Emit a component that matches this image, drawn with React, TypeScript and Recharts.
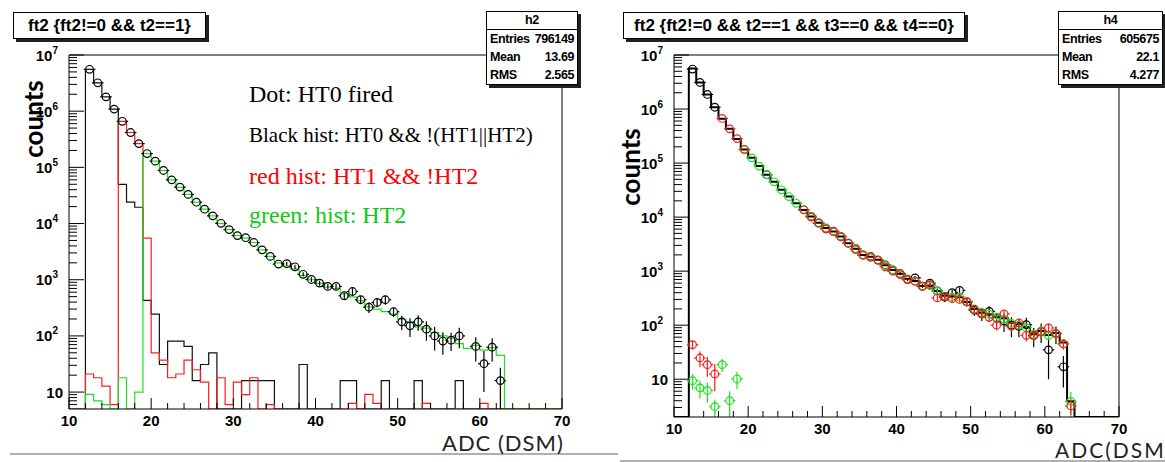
import React from "react";
import {
  ComposedChart,
  Line,
  Scatter,
  XAxis,
  YAxis,
  ErrorBar,
  ReferenceLine,
} from "recharts";

// histograms are filled per integer bin, first bin edge = 10
const HIST_FIRST_BIN = 10;
// open-circle points start at bin 12 (centre 12.5)
const DOT_FIRST_BIN = 12;
const X_TICKS = [10, 12, 14, 16, 18, 20, 22, 24, 26, 28, 30, 32, 34, 36, 38, 40, 42, 44, 46, 48, 50, 52, 54, 56, 58, 60, 62, 64, 66, 68, 70];

// ---------- left panel: ft2 {ft2!=0 && t2==1} ----------
// bins 10..69
const leftBlackHist = [
  0, 0, 5.56e6, 3.2e6, 1.8e6, 1.09e6, 5e4, 2.4e4, 1.95e4, 430,
  245, 31, 81, 81, 65, 16, 31, 50, 0, 0,
  0, 16, 16, 16, 16, 0, 0, 0, 31, 0,
  0, 0, 0, 16, 16, 0, 0, 0, 16, 0,
  0, 0, 16, 0, 0, 0, 0, 16, 0, 0,
  0, 0, 0, 0, 0, 0, 0, 0, 0, 0,
];
const leftRedHist = [
  0, 0, 21, 18, 12.8, 6, 6.6e5, 4.17e5, 2.65e5, 5.5e3,
  50, 37, 18, 21, 37, 25, 15, 0, 18, 6,
  15, 9, 18, 0, 6, 0, 0, 0, 0, 0,
  0, 0, 0, 0, 6.3, 0, 9.1, 6.3, 0, 0,
  0, 0, 0, 6.3, 0, 0, 0, 0, 0, 0,
  6.3, 0, 0, 0, 0, 0, 0, 0, 0, 0,
];
const leftGreenHist = [
  0, 0, 9.1, 7, 6, 0, 18, 0, 10, 1.76e5,
  1.29e5, 8.8e4, 6.0e4, 4.4e4, 3.3e4, 2.4e4, 1.8e4, 1.37e4, 1.0e4, 7.8e3,
  6.1e3, 5.5e3, 4.6e3, 3.4e3, 2.6e3, 2.0e3, 1.75e3, 1.55e3, 1.2e3, 1.0e3,
  860, 740, 700, 560, 497, 422, 330, 300, 270, 244,
  198, 174, 145, 138, 115, 100, 91, 73, 60, 68,
  56, 62, 45, 0, 0, 0, 0, 0, 0, 0,
];
// HT0 fired points, bins 12..62
const leftDots = [
  5.56e6, 3.2e6, 1.8e6, 1.09e6, 6.6e5, 4.17e5, 2.65e5, 1.76e5,
  1.29e5, 8.8e4, 6.0e4, 4.45e4, 3.3e4, 2.4e4, 1.8e4, 1.37e4, 1.01e4, 7.8e3,
  6.1e3, 5.6e3, 4.6e3, 3.4e3, 2.6e3, 1.9e3, 1.93e3, 1.7e3, 1.25e3, 1.01e3,
  870, 760, 760, 518, 617, 440, 325, 393, 440, 269,
  178, 151, 178, 132, 100, 81, 84, 100, null, 65,
  32, 63, 16,
];
const leftDotErr = [
  0, 0, 0, 0, 0, 0, 0, 0,
  0, 0, 0, 0, 0, 0, 0, 0, 0, 0,
  0, 0, 0, 0, 0, 0, 150, 140, 110, 100,
  90, 80, 80, 70, 90, 70, 70, 70, 80, 50,
  50, 55, 55, 50, 45, 35, 30, 40, 0, 30,
  22, 28, 11,
];

// ---------- right panel: ft2 {ft2!=0 && t2==1 && t3==0 && t4==0} ----------
// bins 10..69
const rightBlackHist = [
  0, 0, 5.6e6, 3.1e6, 1.85e6, 1.08e6, 6.6e5, 4.3e5, 2.8e5, 1.78e5,
  1.25e5, 8.8e4, 6.1e4, 4.5e4, 3.2e4, 2.4e4, 1.8e4, 1.36e4, 1.03e4, 7.9e3,
  6.3e3, 5.4e3, 4.4e3, 3.3e3, 2.6e3, 2.0e3, 1.85e3, 1.62e3, 1.28e3, 1.05e3,
  900, 720, 660, 530, 540, 430, 350, 340, 330, 270,
  200, 170, 160, 140, 135, 110, 105, 92, 68, 78,
  66, 72, 48, 3.9, 0, 0, 0, 0, 0, 0,
];
// points, bins 12..63
const rightBlackDots = [
  5.5e6, 3.1e6, 1.86e6, 1.08e6, null, null, null, null,
  null, null, 6.1e4, null, null, null, null, null, 1.03e4, 7.8e3,
  6.2e3, 5.4e3, 4.4e3, 3.3e3, 2.6e3, 2.0e3, 1.88e3, 1.6e3, 1.3e3, 1.05e3,
  900, 700, 750, 530, 600, 430, 330, 400, 440, 270,
  190, 165, 180, 135, 120, 100, 95, 102, 64, 77,
  35, 70, 17, null,
];
const rightBlackErr = [
  0, 0, 0, 0, 0, 0, 0, 0,
  0, 0, 0, 0, 0, 0, 0, 0, 0, 0,
  0, 0, 0, 0, 0, 0, 0, 0, 0, 0,
  60, 50, 60, 45, 70, 50, 60, 55, 60, 45,
  40, 45, 45, 35, 45, 40, 35, 35, 25, 30,
  25, 25, 10, 0,
];
const rightRedDots = [
  43.5, 24.7, 18.6, 12.5, 6.7e5, 4.3e5, 2.84e5, 1.8e5,
  null, null, null, null, null, null, null, 1.38e4, 1.0e4, 7.7e3,
  6.0e3, 5.5e3, 4.3e3, 3.3e3, 2.5e3, 1.95e3, 1.8e3, 1.6e3, 1.2e3, 1.0e3,
  860, 700, 650, 520, 560, 320, 340, 310, 300, 270,
  195, 160, 140, 100, 162, 95, 110, 65, 64, 75,
  89, 70, 45, 3.2,
];
const rightRedErr = [
  8, 8, 7.5, 6.5, 0, 0, 0, 0,
  0, 0, 0, 0, 0, 0, 0, 0, 0, 0,
  0, 0, 0, 0, 0, 0, 0, 0, 0, 0,
  0, 0, 0, 0, 60, 45, 45, 40, 40, 35,
  30, 28, 25, 20, 25, 20, 20, 15, 14, 15,
  18, 15, 10, 1,
];
const rightGreenDots = [
  9.4, 6.9, 6.2, 3.1, 18.6, 4.0, 10.1, 1.76e5,
  1.25e5, 8.8e4, 6.1e4, 4.5e4, 3.2e4, 2.4e4, 1.8e4, 1.35e4, 1.03e4, 7.9e3,
  6.3e3, 5.4e3, 4.4e3, 3.3e3, 2.6e3, 2.0e3, 1.85e3, 1.62e3, 1.28e3, 1.05e3,
  880, 720, 660, 530, 540, 425, 345, 330, 330, 275,
  200, 172, 160, 138, 130, 108, 100, 90, 68, 78,
  64, 70, 45, 3.9,
];
const rightGreenErr = [
  3, 2.5, 2.5, 1.1, 5, 2, 3.5, 0,
  0, 0, 0, 0, 0, 0, 0, 0, 0, 0,
  0, 0, 0, 0, 0, 0, 0, 0, 0, 0,
  0, 0, 0, 0, 30, 25, 22, 22, 22, 18,
  15, 14, 13, 12, 12, 10, 10, 9, 8, 8,
  8, 8, 6, 1.9,
];

const RED = "#ff1a1a";
const GREEN = "#1ee01e";
const SANS = "'Liberation Sans', Arial, sans-serif";

type Pt = { x: number; y: number; err?: number };

// step-histogram rows at the bin edges; empty bins sit on the axis floor
function histRows(vals: number[], floor: number): Pt[] {
  const rows: Pt[] = vals.map((v, i) => ({ x: HIST_FIRST_BIN + i, y: v > 0 ? v : floor }));
  rows.push({ x: HIST_FIRST_BIN + vals.length, y: rows[rows.length - 1].y });
  return rows;
}

function dotRows(vals: (number | null)[], errs: number[]): Pt[] {
  const rows: Pt[] = [];
  vals.forEach((v, i) => {
    if (v == null) return;
    rows.push({ x: DOT_FIRST_BIN + i + 0.5, y: v, err: errs[i] || 0 });
  });
  return rows;
}

function logTicks(floor: number): number[] {
  const out: number[] = [];
  for (let e = 0; e < 7; e++) {
    for (let m = 1; m <= 9; m++) {
      const v = m * Math.pow(10, e);
      if (v > floor) out.push(v);
    }
  }
  out.push(1e7);
  return out;
}

const YTick = (props: any) => {
  const { x, y, payload } = props;
  const v = payload.value;
  const lg = Math.log10(v);
  const exp = Math.round(lg);
  const major = Math.abs(lg - exp) < 1e-6;
  return (
    <g>
      <line x1={x} y1={y} x2={x + (major ? 15 : 8)} y2={y} stroke="#000" strokeWidth={1} />
      {major && exp === 1 && (
        <text x={x - 6} y={y + 5.5} textAnchor="end" fontFamily={SANS} fontWeight="bold" fontSize={15} fill="#000">
          10
        </text>
      )}
      {major && exp > 1 && (
        <text x={x - 11} y={y + 5.5} textAnchor="end" fontFamily={SANS} fontWeight="bold" fontSize={15} fill="#000">
          10
          <tspan dy={-7} fontSize={10}>
            {exp}
          </tspan>
        </text>
      )}
    </g>
  );
};

const XTick = (props: any) => {
  const { x, y, payload } = props;
  const major = payload.value % 10 === 0;
  return (
    <g>
      <line x1={x} y1={y} x2={x} y2={y - (major ? 11 : 6)} stroke="#000" strokeWidth={1} />
      {major && (
        <text x={x} y={y + 17} textAnchor="middle" fontFamily={SANS} fontWeight="bold" fontSize={15} fill="#000">
          {payload.value}
        </text>
      )}
    </g>
  );
};

// ROOT-style open circle with little horizontal stubs
const circleShape = (color: string) => (p: any) => {
  const r = 3.8;
  return (
    <g>
      <circle cx={p.cx} cy={p.cy} r={r} fill="none" stroke={color} strokeWidth={1.2} />
      <line x1={p.cx - r - 2} y1={p.cy} x2={p.cx - r} y2={p.cy} stroke={color} strokeWidth={1.2} />
      <line x1={p.cx + r} y1={p.cy} x2={p.cx + r + 2} y2={p.cy} stroke={color} strokeWidth={1.2} />
    </g>
  );
};

type HistDef = { rows: Pt[]; color: string; width: number };
type DotDef = { rows: Pt[]; color: string };

type PanelProps = {
  left: number;
  width: number;
  yAxisWidth: number;
  margin: { top: number; right: number; bottom: number; left: number };
  floor: number;
  hists: HistDef[];
  dots: DotDef[];
};

function Panel({ left, width, yAxisWidth, margin, floor, hists, dots }: PanelProps) {
  return (
    <div style={{ position: "absolute", left, top: 0 }}>
      <ComposedChart width={width} height={462} margin={margin}>
        <XAxis
          type="number"
          dataKey="x"
          domain={[10, 70]}
          ticks={X_TICKS}
          interval={0}
          allowDataOverflow
          height={30}
          tickSize={0}
          tickMargin={0}
          tickLine={false}
          axisLine={{ stroke: "#000" }}
          tick={<XTick />}
        />
        <YAxis
          type="number"
          dataKey="y"
          scale="log"
          domain={[floor, 1e7]}
          ticks={logTicks(floor)}
          interval={0}
          allowDataOverflow
          width={yAxisWidth}
          tickSize={0}
          tickMargin={0}
          tickLine={false}
          axisLine={{ stroke: "#000" }}
          tick={<YTick />}
        />
        <ReferenceLine y={1e7} stroke="#000" strokeWidth={1} />
        <ReferenceLine x={70} stroke="#000" strokeWidth={1} />
        {hists.map((h, i) => (
          <Line
            key={`h${i}`}
            data={h.rows}
            dataKey="y"
            type="stepAfter"
            stroke={h.color}
            strokeWidth={h.width}
            dot={false}
            activeDot={false}
            isAnimationActive={false}
          />
        ))}
        {dots.map((d, i) => (
          <Scatter
            key={`d${i}`}
            data={d.rows}
            dataKey="y"
            shape={circleShape(d.color)}
            isAnimationActive={false}
          >
            <ErrorBar dataKey="err" direction="y" width={0} stroke={d.color} strokeWidth={1.2} />
          </Scatter>
        ))}
      </ComposedChart>
    </div>
  );
}

const titleBox: React.CSSProperties = {
  position: "absolute",
  top: 12,
  height: 25,
  border: "1px solid #000",
  boxShadow: "3px 3px 0 #222",
  background: "#fff",
  fontFamily: SANS,
  fontWeight: "bold",
  fontSize: 17,
  lineHeight: "25px",
  textAlign: "center",
  whiteSpace: "nowrap",
};

function StatsBox({ left, width, name, entries, mean, rms }: any) {
  const row: React.CSSProperties = {
    display: "flex",
    justifyContent: "space-between",
    padding: "0 3px",
    height: 18,
    lineHeight: "18px",
  };
  return (
    <div
      style={{
        position: "absolute",
        left,
        top: 11,
        width,
        border: "1px solid #000",
        boxShadow: "3px 3px 0 #222",
        background: "#fff",
        fontFamily: SANS,
        fontWeight: "bold",
        fontSize: 12.5,
        letterSpacing: -0.4,
      }}
    >
      <div style={{ textAlign: "center", height: 17, lineHeight: "17px", borderBottom: "1px solid #000" }}>{name}</div>
      <div style={row}>
        <span>Entries</span>
        <span>{entries}</span>
      </div>
      <div style={row}>
        <span>Mean</span>
        <span>{mean}</span>
      </div>
      <div style={row}>
        <span>RMS</span>
        <span>{rms}</span>
      </div>
    </div>
  );
}

const note = (top: number, color: string, text: string, size = 24) => (
  <div
    style={{
      position: "absolute",
      left: 249,
      top,
      color,
      fontFamily: "'Liberation Serif', 'Times New Roman', serif",
      fontSize: size,
      lineHeight: "28px",
      whiteSpace: "nowrap",
    }}
  >
    {text}
  </div>
);

const axisTitle = (left: number, top: number): React.CSSProperties => ({
  position: "absolute",
  left,
  top,
  transform: "translate(-50%, -50%) rotate(-90deg)",
  fontFamily: "Lato, sans-serif",
  fontWeight: "bold",
  fontSize: 26,
  color: "#000",
});

// with a 20px line height the baseline sits at top + 10 + 0.387 * size
const xTitle = (left: number, top: number, size: number, spacing: number): React.CSSProperties => ({
  position: "absolute",
  left,
  top,
  fontFamily: "Lato, sans-serif",
  fontSize: size,
  letterSpacing: spacing,
  lineHeight: "20px",
  color: "#222",
  whiteSpace: "nowrap",
});

export default function App() {
  const leftHists: HistDef[] = [
    { rows: histRows(leftBlackHist, 5), color: "#111", width: 1.2 },
    { rows: histRows(leftRedHist, 5), color: RED, width: 1.2 },
    { rows: histRows(leftGreenHist, 5), color: GREEN, width: 1.2 },
  ];
  const leftPoints: DotDef[] = [{ rows: dotRows(leftDots, leftDotErr), color: "#000" }];

  const rightHists: HistDef[] = [{ rows: histRows(rightBlackHist, 2), color: "#000", width: 2 }];
  const rightPoints: DotDef[] = [
    { rows: dotRows(rightBlackDots, rightBlackErr), color: "#000" },
    { rows: dotRows(rightGreenDots, rightGreenErr), color: GREEN },
    { rows: dotRows(rightRedDots, rightRedErr), color: RED },
  ];

  return (
    <div style={{ position: "relative", width: 1165, height: 462, background: "#fff", overflow: "hidden" }}>
      <style>{"body{margin:0}"}</style>

      <Panel
        left={0}
        width={580}
        yAxisWidth={69}
        margin={{ top: 55, right: 18, bottom: 23, left: 0 }}
        floor={5}
        hists={leftHists}
        dots={leftPoints}
      />
      <Panel
        left={600}
        width={540}
        yAxisWidth={74}
        margin={{ top: 55, right: 21, bottom: 15, left: 0 }}
        floor={2}
        hists={rightHists}
        dots={rightPoints}
      />

      {/* slide separators */}
      <div style={{ position: "absolute", left: 10, top: 453, width: 608, height: 2, background: "#b0b0b0" }} />
      <div style={{ position: "absolute", left: 620, top: 460, width: 545, height: 2, background: "#b0b0b0" }} />

      {/* left panel decorations */}
      <div style={{ ...titleBox, left: 13, width: 191 }}>{"ft2 {ft2!=0 && t2==1}"}</div>
      <StatsBox left={486} width={90} name="h2" entries="796149" mean="13.69" rms="2.565" />
      {note(80, "#000", "Dot: HT0 fired")}
      {note(121, "#000", "Black hist: HT0 && !(HT1||HT2)", 21)}
      {note(162, "#ff0000", "red hist: HT1 && !HT2")}
      {note(201, "#10c810", "green: hist: HT2")}
      <div style={axisTitle(33, 119)}>counts</div>
      <div style={xTitle(442, 432.5, 22, 1)}>ADC (DSM)</div>

      {/* right panel decorations */}
      <div style={{ ...titleBox, left: 623, width: 340 }}>{"ft2 {ft2!=0 && t2==1 && t3==0 && t4==0}"}</div>
      <StatsBox left={1058} width={103} name="h4" entries="605675" mean="22.1" rms="4.277" />
      <div style={axisTitle(630, 167)}>counts</div>
      <div style={xTitle(1055, 440, 21, 2)}>ADC(DSM</div>
    </div>
  );
}
